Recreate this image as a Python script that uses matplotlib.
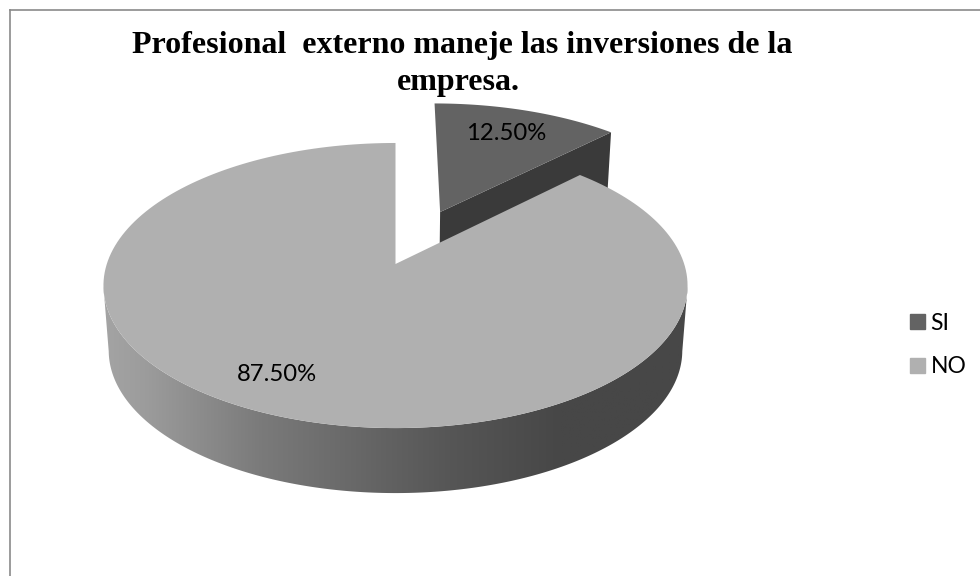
import numpy as np
import matplotlib
matplotlib.use("Agg")
import matplotlib.pyplot as plt
from matplotlib.colors import LinearSegmentedColormap
from matplotlib.patches import Patch

categories = ["SI", "NO"]
shares = [12.5, 87.5]
title_lines = ["Profesional  externo maneje las inversiones de la", "empresa."]

# perspective of the pie plane, fitted by eye
CX, CY = 395.5, 264
A, B, K = 288.7, 139.3, 0.151
DEPTH = 65
EXPLODE = 0.428
GREY_SI, GREY_SI_WALL, GREY_NO = "#636363", "#3a3a3a", "#b0b0b0"


def project(u, v):
    w = 1 + K * v
    return CX + A * u / w, CY - B * v / w


def lower(x, y):
    # rim of the bottom face, a bit narrower than the top one
    return CX + (x - CX) * 0.982, y + DEPTH


def wedge(start, end, du=0.0, dv=0.0):
    t = np.radians(np.linspace(start, end, 200))
    u = np.r_[du, du + np.sin(t)]
    v = np.r_[dv, dv + np.cos(t)]
    return project(u, v)


fig, ax = plt.subplots(figsize=(9.8, 5.76), dpi=100)
fig.subplots_adjust(0, 0, 1, 1)

angles = np.cumsum([0] + shares) * 3.6
mid = np.radians((angles[0] + angles[1]) / 2)
du, dv = EXPLODE * np.sin(mid), EXPLODE * np.cos(mid)

# SI: cut face, then top
x, y = wedge(angles[0], angles[1], du, dv)
fx = [x[0], x[-1], lower(x[-1], y[-1])[0], lower(x[0], y[0])[0]]
fy = [y[0], y[-1], y[-1] + DEPTH, y[0] + DEPTH]
ax.fill(fx, fy, color=GREY_SI_WALL, lw=0, zorder=2)
ax.fill(x, y, color=GREY_SI, lw=0, zorder=3)

# NO: side wall with shading, between the two widest points of the rim
t = np.radians(np.linspace(99, 261, 300))
rx, ry = project(np.sin(t), np.cos(t))
bx, by = lower(rx, ry)
wall = ax.fill(np.r_[rx, bx[::-1]], np.r_[ry, by[::-1]], color="none", lw=0, zorder=4)[0]
shade = LinearSegmentedColormap.from_list(
    "wall", [(0, "#a4a4a4"), (0.07, "#9c9c9c"), (0.27, "#7a7a7a"), (0.5, "#606060"), (0.59, "#565656"), (0.78, "#474747"), (1, "#474747")]
)
im = ax.imshow(np.linspace(0, 1, 256)[None, :], cmap=shade, extent=(103, 690, 510, 270), aspect="auto", zorder=4)
im.set_clip_path(wall)

x, y = wedge(angles[1], angles[2])
ax.fill(x, y, color=GREY_NO, lw=0, zorder=5)

# labels
ax.text(506, 140, f"{shares[0]:.2f}%", fontsize=17.2, family="Lato", ha="center", va="baseline", zorder=6)
ax.text(276.5, 381, f"{shares[1]:.2f}%", fontsize=17.2, family="Lato", ha="center", va="baseline", zorder=6)

ax.text(462.5, 53, title_lines[0], fontsize=23, family="Liberation Serif", weight="bold", ha="center", va="baseline")
ax.text(458, 90, title_lines[1], fontsize=23, family="Liberation Serif", weight="bold", ha="center", va="baseline")

# chart frame, cropped on the right and bottom
ax.plot([10, 10], [576, 10], color="#8a8a8a", lw=1.2, zorder=7)
ax.plot([10, 980], [10, 10], color="#8a8a8a", lw=1.2, zorder=7)

handles = [Patch(color=GREY_SI), Patch(color=GREY_NO)]
ax.legend(handles, categories, frameon=False, loc="center left", bbox_to_anchor=(889, 345),
          bbox_transform=ax.transData, prop={"family": "Lato", "size": 16.5},
          handlelength=0.66, handleheight=0.66, handletextpad=0.25, labelspacing=1.0)

ax.set_xlim(0, 980)
ax.set_ylim(576, 0)
ax.axis("off")
fig.savefig("out.png", dpi=100, facecolor="white")
